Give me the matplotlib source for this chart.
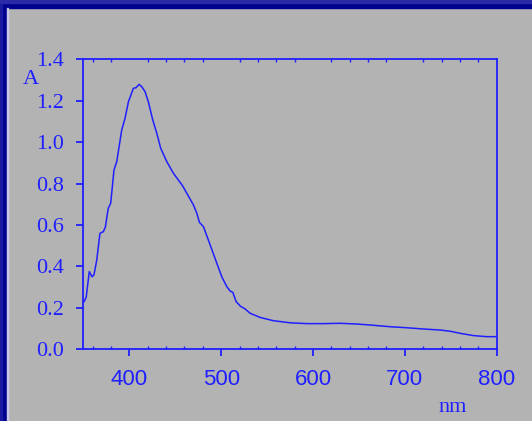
import numpy as np
import matplotlib.pyplot as plt
from matplotlib.patches import Rectangle
from matplotlib.ticker import MultipleLocator

# absorbance spectrum
wavelength = [350.7, 353, 356.4, 359.4, 361.5, 364.5, 368, 371.7, 373.9, 377,
              379.7, 383.3, 386.3, 391.7, 395.3, 399, 404.4, 407.3, 410.6, 413.5,
              417.1, 420.7, 425.5, 429.9, 434.2, 440.8, 448, 458.2, 462.6, 469.8,
              473.5, 476.3, 480.7, 488, 495.3, 500.7, 506.2, 509.8, 512.7, 516.3,
              521, 526, 531.5, 542.4, 556.9, 575, 593.3, 611.4, 629.6, 647.8,
              665.9, 684, 702.3, 720.4, 738.6, 749.5, 760.4, 774.9, 789.5, 798.6]
absorb = [0.23, 0.251, 0.375, 0.35, 0.36, 0.43, 0.56, 0.568, 0.59, 0.68,
          0.705, 0.866, 0.906, 1.059, 1.115, 1.195, 1.26, 1.263, 1.279, 1.268,
          1.244, 1.195, 1.107, 1.043, 0.970, 0.906, 0.85, 0.788, 0.753, 0.697,
          0.657, 0.613, 0.592, 0.504, 0.415, 0.35, 0.302, 0.281, 0.275, 0.23,
          0.208, 0.195, 0.174, 0.154, 0.138, 0.128, 0.124, 0.124, 0.1255, 0.122,
          0.116, 0.109, 0.104, 0.098, 0.093, 0.087, 0.077, 0.066, 0.061, 0.061]

blue = '#1f1fff'
bg = '#b3b3b3'

fig = plt.figure(figsize=(5.32, 4.21), dpi=100, facecolor=bg)
ax = fig.add_axes([0.1568, 0.1703, 0.9336 - 0.1568, 0.8591 - 0.1703])
ax.set_facecolor(bg)

ax.plot(wavelength, absorb, color=blue, lw=1.1)

ax.set_xlim(350, 800)
ax.set_ylim(0, 1.4)
ax.xaxis.set_major_locator(MultipleLocator(100))
ax.xaxis.set_minor_locator(MultipleLocator(20))
ax.yaxis.set_major_locator(MultipleLocator(0.2))
ax.yaxis.set_major_formatter(lambda v, pos: f'{v:.1f}')

for s in ax.spines.values():
    s.set_color(blue)
    s.set_linewidth(1.3)

ax.tick_params(axis='x', which='major', direction='out', length=5, width=1.3,
               color=blue, labelcolor=blue, pad=9, top=False,
               labelsize=16, labelfontfamily='Liberation Sans')
ax.tick_params(axis='x', which='minor', direction='in', length=2.2, width=1.0,
               color=blue, top=True, bottom=True)
ax.tick_params(axis='y', which='major', direction='out', length=5, width=1.3,
               color=blue, labelcolor=blue, pad=9, right=False,
               labelsize=16, labelfontfamily='Liberation Serif')

fig.text(22.5 / 532, 1 - 83.5 / 421, 'A', color=blue, fontsize=16,
         family='Liberation Serif', ha='left', va='baseline')
fig.text(438 / 532, 1 - 411.5 / 421, 'nm', color=blue, fontsize=16,
         family='Liberation Serif', ha='left', va='baseline')

# window frame on the left and top
W, H = 532, 421
fig.patches.append(Rectangle((0, 0), 7 / W, 1, transform=fig.transFigure,
                             color='#00008f', zorder=5))
fig.patches.append(Rectangle((0, 0), 2 / W, 1, transform=fig.transFigure,
                             color='#1a1aa0', zorder=6))
fig.patches.append(Rectangle((7 / W, 0), 1 / W, 1 - 8 / H, transform=fig.transFigure,
                             color='#c8c8e8', zorder=6))
fig.patches.append(Rectangle((0, 1 - 8 / H), 1, 8 / H, transform=fig.transFigure,
                             color='#00008f', zorder=5))
fig.patches.append(Rectangle((0, 1 - 3 / H), 1, 3 / H, transform=fig.transFigure,
                             color='#2a2aa8', zorder=6))

fig.savefig('out.png', dpi=100, facecolor=bg)
